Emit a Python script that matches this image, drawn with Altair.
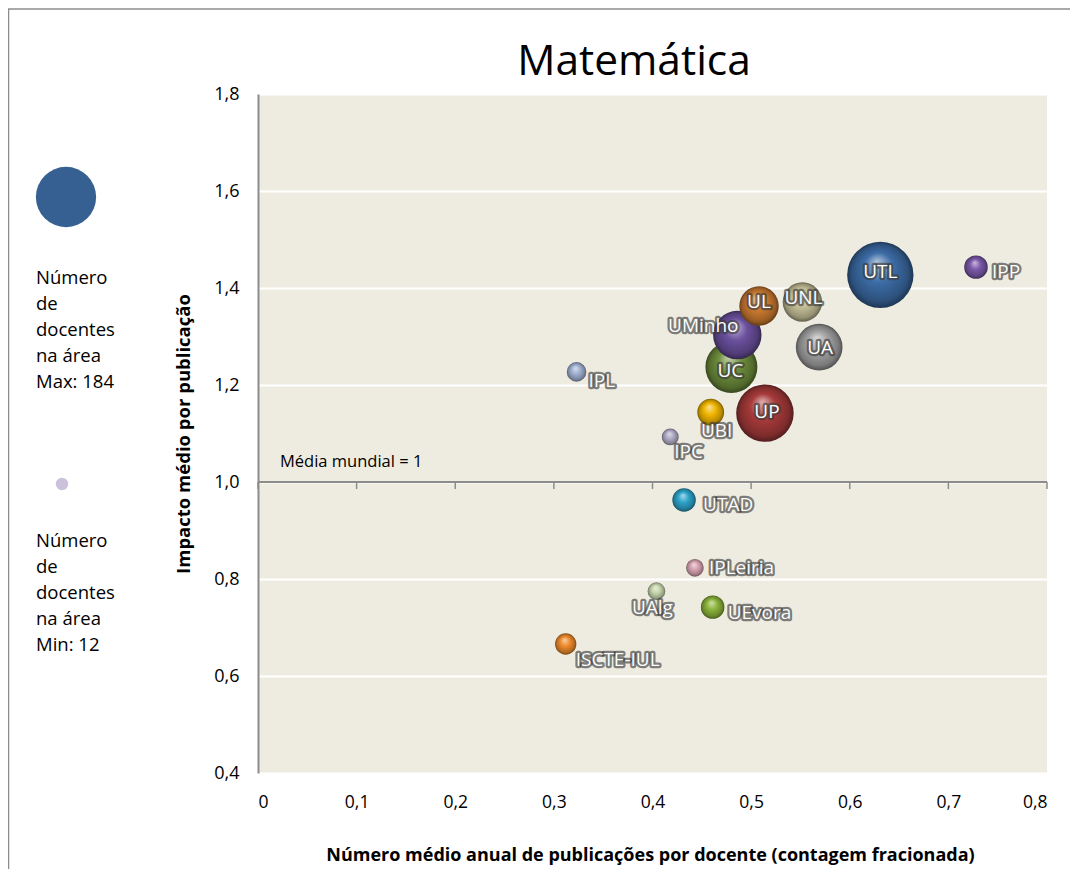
import altair as alt
import pandas as pd

# ---- data ----
names = ["UTL", "IPP", "UA", "UNL", "UC", "UMinho", "UL", "UP", "UBI", "IPC",
         "IPL", "UTAD", "IPLeiria", "UAlg", "UEvora", "ISCTE-IUL"]
pubs = [0.631, 0.728, 0.569, 0.552, 0.480, 0.486, 0.508, 0.514, 0.459, 0.418,
        0.323, 0.432, 0.443, 0.404, 0.461, 0.312]
impact = [1.427, 1.443, 1.278, 1.371, 1.237, 1.303, 1.363, 1.142, 1.144, 1.093,
          1.227, 0.963, 0.823, 0.775, 0.742, 0.666]
docentes = [184, 23, 91, 65, 113, 98, 65, 138, 30, 12, 16, 23, 13, 13, 23, 19]

x_ticks = [0, 0.1, 0.2, 0.3, 0.4, 0.5, 0.6, 0.7, 0.8]
y_ticks = [0.4, 0.6, 0.8, 1.0, 1.2, 1.4, 1.6, 1.8]
world_mean = 1.0

legend_max_text = ["Número", "de", "docentes", "na área", "Max: 184"]
legend_min_text = ["Número", "de", "docentes", "na área", "Min: 12"]

# ---- styles ----
base_colors = {
    "UTL": "#3C6CA6", "IPP": "#7A58A8", "UA": "#A2A2A2", "UNL": "#C8C29A",
    "UC": "#6E8E3C", "UMinho": "#6B509E", "UL": "#CC7A30", "UP": "#A83A3A",
    "UBI": "#F0B400", "IPC": "#B0ACC6", "IPL": "#A0B0D0", "UTAD": "#2CA2C8",
    "IPLeiria": "#D6A2B0", "UAlg": "#C6D6AE", "UEvora": "#8AB43A",
    "ISCTE-IUL": "#EE8A2C",
}
# (align, dx, dy) for each label
label_pos = {
    "UTL": ("center", 0, -3), "IPP": ("left", 16, 5), "UA": ("center", 1, 1),
    "UNL": ("center", 1, -4), "UC": ("center", -1, 4),
    "UMinho": ("center", -34, -9), "UL": ("center", 0, -4),
    "UP": ("center", 2, -1), "UBI": ("center", 6, 19), "IPC": ("left", 4, 15),
    "IPL": ("left", 12, 9), "UTAD": ("left", 19, 5),
    "IPLeiria": ("left", 14, 0), "UAlg": ("center", -4, 17),
    "UEvora": ("left", 15, 6), "ISCTE-IUL": ("left", 10, 16),
}
FONT = "Open Sans"
GRAY = "#8C8C8C"


def mix(hex_color, other, t):
    h = hex_color.lstrip("#")
    o = other.lstrip("#")
    c = [int(h[i:i + 2], 16) for i in (0, 2, 4)]
    d = [int(o[i:i + 2], 16) for i in (0, 2, 4)]
    r = [round(a + (b - a) * t) for a, b in zip(c, d)]
    return "#%02x%02x%02x" % tuple(r)


df = pd.DataFrame({"name": names, "pubs": pubs, "impact": impact,
                   "docentes": docentes})

label_expr = "datum.value == 0 ? '0' : replace(format(datum.value, '.1f'), '.', ',')"

x_enc = alt.X(
    "pubs:Q",
    scale=alt.Scale(domain=[0, 0.8], nice=False, zero=False),
    axis=alt.Axis(
        values=x_ticks, labelExpr=label_expr, grid=False, domain=False,
        ticks=False, tickSize=0, labelPadding=29, labelBaseline="middle",
        labelFont=FONT, labelFontSize=17.5, labelColor="#000000",
        title="Número  médio anual de publicações por docente (contagem fracionada)",
        titleFont=FONT, titleFontSize=18, titleFontWeight="bold",
        titleColor="#000000", titleX=392, titleY=82,
        titleBaseline="middle", titleAlign="center",
    ),
)
y_enc = alt.Y(
    "impact:Q",
    scale=alt.Scale(domain=[0.4, 1.8], nice=False, zero=False),
    axis=alt.Axis(
        values=y_ticks, labelExpr=label_expr, grid=True, gridColor="#FFFFFF",
        gridWidth=2, domain=True, domainColor=GRAY, domainWidth=2,
        ticks=False, tickSize=0, labelPadding=19, labelFont=FONT,
        labelFontSize=18, labelColor="#000000",
        title="Impacto médio por publicação", titleFont=FONT,
        titleFontSize=18.5, titleFontWeight="bold", titleColor="#000000",
        titleX=-75, titleY=339.5, titleAngle=270, titleBaseline="middle",
        titleAlign="center",
    ),
)
size_enc = alt.Size("docentes:Q",
                    scale=alt.Scale(domain=[0, 184], range=[0, 4400]),
                    legend=None)

base = alt.Chart(df)

layers = []

# world-average line at 1.0 with its tick marks
ref_df = pd.DataFrame({"pubs": x_ticks})
layers.append(
    alt.Chart(ref_df).mark_rule(color=GRAY, strokeWidth=2).encode(
        x=alt.X("min(pubs):Q", scale=alt.Scale(domain=[0, 0.8], nice=False)),
        x2="max(pubs):Q",
        y=alt.Y(datum=world_mean),
    )
)
layers.append(
    alt.Chart(ref_df).mark_rule(color=GRAY, strokeWidth=1.5, y2Offset=7).encode(
        x="pubs:Q", y=alt.Y(datum=world_mean), y2=alt.Y2(datum=world_mean)
    )
)
layers.append(
    alt.Chart(pd.DataFrame({"pubs": [0.0], "impact": [world_mean]}))
    .mark_text(text="Média mundial = 1", align="left", baseline="middle",
               dx=22, dy=-20, font=FONT, fontSize=16.5, color="#000000")
    .encode(x="pubs:Q", y="impact:Q")
)

# bubbles (3-D look via radial gradient)
for n in names:
    c = base_colors[n]
    grad = alt.RadialGradient(
        gradient="radial",
        stops=[
            alt.GradientStop(color=mix(c, "#FFFFFF", 0.6), offset=0),
            alt.GradientStop(color=c, offset=0.45),
            alt.GradientStop(color=mix(c, "#000000", 0.25), offset=0.85),
            alt.GradientStop(color=mix(c, "#000000", 0.5), offset=1),
        ],
        x1=0.45, y1=0.3, r1=0, x2=0.5, y2=0.5, r2=0.5,
    )
    layers.append(
        base.transform_filter(alt.datum.name == n)
        .mark_circle(fill=grad, fillOpacity=1, opacity=1)
        .encode(x=x_enc, y=y_enc, size=size_enc)
    )

# labels: dark halo then white text
for n in names:
    align, dx, dy = label_pos[n]
    sub = base.transform_filter(alt.datum.name == n)
    layers.append(
        sub.mark_text(align=align, baseline="middle", dx=dx, dy=dy, font=FONT,
                      fontSize=19, fill="#3A3A3A", stroke="#3A3A3A",
                      strokeWidth=4.5, strokeOpacity=0.65, strokeJoin="round",
                      fillOpacity=0.65)
        .encode(x="pubs:Q", y="impact:Q", text="name:N")
    )
    layers.append(
        sub.mark_text(align=align, baseline="middle", dx=dx, dy=dy, font=FONT,
                      fontSize=19, fill="#FFFFFF")
        .encode(x="pubs:Q", y="impact:Q", text="name:N")
    )

# title
one = pd.DataFrame({"k": [0]})
layers.append(
    alt.Chart(one).mark_text(font=FONT, fontSize=42.5, align="center",
                             baseline="middle", color="#000000")
    .encode(x=alt.value(376), y=alt.value(-32), text=alt.value("Matemática"))
)

# left legend (bubble size)
layers.append(
    alt.Chart(one).mark_circle(color="#376092", opacity=1)
    .encode(x=alt.value(-192), y=alt.value(103), size=alt.value(3632))
)
layers.append(
    alt.Chart(one).mark_circle(color="#CCC1DA", opacity=1)
    .encode(x=alt.value(-196), y=alt.value(390), size=alt.value(154))
)
layers.append(
    alt.Chart(one).mark_text(font=FONT, fontSize=18.5, align="left",
                             baseline="alphabetic", lineHeight=26,
                             color="#000000")
    .encode(x=alt.value(-222), y=alt.value(190), text=alt.value(legend_max_text))
)
layers.append(
    alt.Chart(one).mark_text(font=FONT, fontSize=18.5, align="left",
                             baseline="alphabetic", lineHeight=26,
                             color="#000000")
    .encode(x=alt.value(-222), y=alt.value(453), text=alt.value(legend_min_text))
)

# outer frame (top and left edges)
layers.append(
    alt.Chart(one).mark_rule(color=GRAY, strokeWidth=1.5)
    .encode(x=alt.value(-249.5), y=alt.value(-85), y2=alt.value(780))
)
layers.append(
    alt.Chart(one).mark_rule(color=GRAY, strokeWidth=1.5)
    .encode(x=alt.value(-250), x2=alt.value(812), y=alt.value(-85))
)

chart = (
    alt.layer(*layers)
    .properties(
        width=789, height=679,
        autosize=alt.AutoSizeParams(type="none"),
        padding={"left": 250, "top": 86, "right": 31, "bottom": 96},
        background="#FFFFFF",
    )
    .configure_view(fill="#EEECE1", stroke=None)
)

chart.save("out.html", embed_options={"renderer": "svg", "actions": False})
